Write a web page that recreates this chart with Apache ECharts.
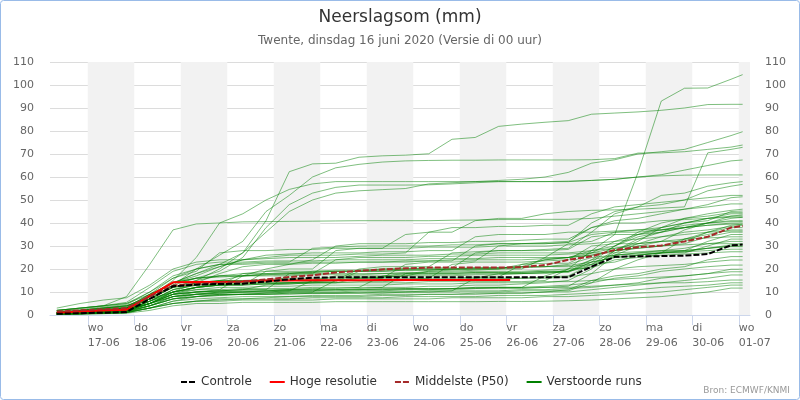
<!DOCTYPE html>
<html>
<head>
<meta charset="utf-8">
<script src="https://cdn.jsdelivr.net/npm/echarts@6/dist/echarts.min.js"></script>
<style>
  html, body { margin: 0; padding: 0; background: #fff; }
  #chart { width: 800px; height: 400px; }
</style>
</head>
<body>
<div id="chart"></div>
<script>
/* Neerslagsom (mm) — ECMWF pluim Twente, run di 16-06-2020 00 uur */

// tijdas: uren sinds 16-06 00:00 lokale tijd
const xMin = 4.5, xMax = 365.8;
const ensTimes = [8, 20, 32, 44, 56, 68, 80, 92, 104, 116, 128, 140, 152, 164, 176, 188,
  200, 212, 224, 236, 248, 260, 272, 284, 296, 308, 320, 332, 344, 356, 362];
const hiresTimes = [8, 20, 32, 44, 56, 68, 80, 92, 104, 116, 128, 140, 152, 164, 176, 188,
  200, 212, 224, 236, 242];

const tickHours = [24, 48, 72, 96, 120, 144, 168, 192, 216, 240, 264, 288, 312, 336, 360];
const dayNames = ['wo', 'do', 'vr', 'za', 'zo', 'ma', 'di', 'wo', 'do', 'vr', 'za', 'zo', 'ma', 'di', 'wo'];
const dayDates = ['17-06', '18-06', '19-06', '20-06', '21-06', '22-06', '23-06', '24-06',
  '25-06', '26-06', '27-06', '28-06', '29-06', '30-06', '01-07'];
const shadedDays = [24, 72, 120, 168, 216, 264, 312, 360];   // grijze dagen

const controle = [0.5, 0.8, 1.0, 1.3, 7, 12.5, 13.2, 13.5, 13.6, 14.5, 15.5, 16.2, 16.4, 16.4, 16.4, 16.4,
  16.4, 16.4, 16.4, 16.4, 16.4, 16.4, 16.4, 21, 25.3, 25.5, 25.6, 25.8, 26.5, 30.3, 30.6];
const hogeResolutie = [1.0, 1.5, 2.0, 2.3, 8.3, 14.2, 14.3, 14.4, 14.6, 15.0, 15.0, 15.1, 15.1, 15.1, 15.2,
  15.2, 15.2, 15.2, 15.2, 15.2, 15.2];
const middelste = [1.5, 2.0, 2.5, 3.0, 8, 12.8, 13.5, 14.0, 14.5, 15.5, 16.5, 17.3, 18.5, 19.2, 19.8, 20.3,
  20.6, 20.6, 20.6, 20.6, 20.8, 21.7, 24.0, 25.5, 28.3, 29.5, 30.2, 32, 34, 38, 38.7];

// 50 verstoorde runs
const runs = [
  [0.5,1,1.5,2,5,9,10,10.5,11,13,13.5,14,14,16,16.5,17,19,19.5,20,20,22,24,25,28,35,62,93,98.6,98.7,102.5,104.5],
  [1,2,3,4,8,12,15,20,27,41,62.3,65.7,66,68.6,69.2,69.5,70.1,76.4,77.2,82,83,83.8,84.5,87.3,87.8,88.3,89,90,91.5,91.6,91.6],
  [1,1.5,2,3,8,14,18,22,27,36,45,50,53,54,54.5,55,57,57.5,58,58.5,59,60,62,66,67.5,70,71,72,75,78,79.7],
  [0.5,1,2,3,9,16,20,26,32,45,52,60,64,65.5,66.5,67,67.2,67.3,67.3,67.4,67.4,67.4,67.4,67.5,68,70.4,70.5,71,72,73,73.9],
  [0.3,0.5,1,1.5,5,10,12,13,13,19,20,20,28,29,29,35,36,36,41,42,42,44,45,45.5,45.7,46,46.5,47,70.5,72,72.9],
  [1,1.5,2.5,3.5,9,13,16,19,25,38,48,53,55.5,56.5,56.5,56.5,56.6,57,57.5,58,58,58,58.2,58.5,59,60,61,63,65,67,67.4],
  [2,3,4,8,22,37,39.6,40,44,50,54.6,57,58,58,58,58,58,58,58,58,58,58,58,58.5,59,60,60.5,60.8,60.9,60.9,60.9],
  [0.5,1,1.5,2,4,7,8,9,9,9.5,10,10,15,16,16,22,23,23,23.5,30,31,31,31.5,40,45,47,52,53,56,57.5,58],
  [1,2,3,4,7,10,12,13,13,13.5,14,14,14.5,19,20,20,20.5,20.5,27,28,28,28.5,29,36,44,47,48,50,54,56,56.8],
  [0.8,1.2,2,2.5,6,11,13,15,17,20,22,24,30,31,31,31,31.5,31.5,32,32,32.5,33,33,38,41,42,44,46,48,51,51.4],
  [1,2,3,4,8,15,25,40,40.5,40.6,40.7,40.8,40.9,41,41,41,41,41.2,41.3,41.5,41.5,41.6,41.6,42,43,44,45,46,47,48.3,48.3],
  [0.5,1,1.5,2,5,9,12,14,14,14.5,15,15,15,20,21,21,21,27,27.5,28,28,28,28.5,34,35,35,36,40,41,45,45.2],
  [0.3,0.6,1,1.5,4,7,9,10,10,10.5,11,11,11,11.5,12,18,19,19,19.5,20,20,25,31,32,36,37,38,42,43,44.5,44.5],
  [2,3,4,5,10,17,20,22,22.5,23,23,29,29.5,30,30,30,30,30.5,30.5,31,31,31,31.5,35,36,36,37,39,40,40.6,40.6],
  [1,1.5,2,3,8,14,18,21,24,26,26.5,27,27,27,27.5,27.5,28,28,34,35,35,35,36,36,36.5,37,37,38,39,39.5,39.5],
  [0.5,1,1.5,2,6,11,13,13.5,14,14,14,14.5,15,15,15,15.5,16,22,23,23,23,23.5,24,30,31,31,32,32,36,38,38],
  [3,5,6.5,7.5,13,20,23,24,24,24.5,25,25,25,25.5,26,26,26,26.5,26.5,27,27,27,27,28,29,30,30,33,35,37,37],
  [0.3,0.5,0.8,1,4,8,10,10.5,11,11,18,19,19,19,19.5,20,20,20,20.5,20.5,21,24,25,26,28,29,30,31,34,36,36],
  [1,1.5,2,3,8,14,16,17,17,17.5,18,18,24,25,25,25,25.5,25.5,26,26,26,26,26.5,27,27,27.5,28,28,32,35,35],
  [0.8,1.2,2,2.5,5,9,10,11,17,18,18,18.5,19,19,19,19.5,19.5,20,20,20.5,21,21,21,22,23,26,27,27,30,33,33],
  [0.2,0.4,0.6,1,3,6,8,9,9,9.5,10,10,10,10.5,10.5,11,11,11,11.5,12,12,17,20,24,26,27,28,29,31,32,32],
  [0.5,1,1.5,2,6,11,14,15,15,15.5,16,16,16,16.5,16.5,17,17,17,17.5,17.5,18,18,19,23,25,26,27,27.5,29,30.5,30.5],
  [1,2,3,4,7,10,12,13,13.5,14,14,14.5,15,15,15,15,15.5,15.5,16,16,16,16.5,17,22,26,27,27.5,28,29,30,30],
  [0.5,0.8,1.2,1.5,5,10,12,13,18,19,19,19,19.5,19.5,20,20,20,20,20.5,20.5,21,21,21.5,23,25,26,27,28,29,29.7,29.7],
  [0.8,1.5,2,2.5,7,12,15,17,18,18,18.5,18.5,19,19,19,19.5,19.5,20,20,20,20.5,21,22,25,26,26.5,27,27.5,28,28.6,28.6],
  [1.5,2,3,3.5,9,14,16,17,17,17.5,17.5,18,18,18,18,18.5,18.5,18.5,19,19,19,19.5,20,20.5,24,25,26,26.5,27,27.5,27.5],
  [0.3,0.5,0.8,1,3,5,6,7,7,7.5,8,8,8,8,8.5,8.5,9,9,9,9.5,9.5,10,11,15,17,18,20,21,24,25.4,25.4],
  [0.5,1,1.5,2,6,10,12,13,13,13.5,14,14,14,14.5,14.5,15,15,15,15.5,15.5,16,16,16.5,18,20,21,21.5,22,23,23.9,23.9],
  [1,1.5,2,2.5,6,9,10,10.5,11,11,11,11.5,11.5,12,12,12,12.5,12.5,13,13,13.5,14,15,20,28,32,38,40,42,43,43],
  [0.5,0.8,1,1.5,4,8,9,9.5,10,10,10.5,10.5,11,11,11,11.5,11.5,11.5,12,12,12,12.5,13,14,16,17,19,20,21,21.7,21.7],
  [2,3,4,5,9,14,16,16.5,17,17,17,17.5,17.5,17.5,18,18,18,18,18.5,18.5,18.5,19,19,21,27,31,34,36,37,38.5,39],
  [0.3,0.6,0.9,1.2,4,7,8,8.5,9,9,9,9.5,9.5,9.5,10,10,10,10.5,10.5,10.5,11,11,11.5,12,13,14,16,17,18,19.9,19.9],
  [0.8,1.2,1.6,2,5,9,11,12,12,12.5,12.5,13,13,13,13,13.5,13.5,13.5,14,14,14,14.5,14.5,15,15.5,16,16.5,17,18,18.8,18.8],
  [0.5,0.8,1,1.2,3,6,7,7.5,8,8,8,8.5,8.5,8.5,9,9,9,9,9.5,9.5,9.5,10,10,11,12,13,14,15,16,17.4,17.4],
  [1,1.5,2,2.5,5,8,9,9.5,10,10,10.5,10.5,10.5,11,11,11,11,11.5,11.5,11.5,11.5,12,12,12.5,13,13.5,14,14,14.5,15.2,15.2],
  [0.3,0.5,0.7,1,3,5,6,6.5,7,7,7,7.5,7.5,7.5,7.5,8,8,8,8,8.5,8.5,8.5,9,9.5,10,11,12,12.5,13,14,14],
  [0.5,0.8,1,1.3,3,5,6,6,6.5,6.5,6.5,6.5,7,7,7,7,7,7.5,7.5,7.5,7.5,8,8,8.5,9,9.5,10,11,12,13,13],
  [0.2,0.4,0.6,0.8,2,4,5,5,5.5,5.5,5.5,5.5,5.8,5.8,5.8,5.8,5.8,5.8,5.8,5.9,5.9,6,6.2,6.5,7,7.5,8,9,10,11.7,11.7],
  [1,1.5,2,2.5,5,8,9,9,9,9,9.5,9.5,9.5,9.5,9.5,10,10,10,10,10,10.5,10.5,10.5,14,20,24,27,33,36,39,39.5],
  [0.5,1,1.5,2,5,9,10,10,10.5,10.5,11,11,11,11,11.5,11.5,11.5,11.5,12,12,12,12,12.5,18,26,30,32,37,40,41,41],
  [1,1.5,2,2.5,7,12,13,13,13.5,13.5,13.5,14,14,14,14,14,14.5,14.5,14.5,14.5,14.5,15,20,28,30,34,36,38,40,42,42.5],
  [0.5,1,1.5,2,6,10,11,11,11.5,11.5,11.5,12,12,12,17,18,18,18,18.5,18.5,18.5,19,19,22,28,33,36,38,40,43,43.5],
  [1,1.5,2.5,3,7,12,14,15,15,15,15.5,15.5,15.5,16,16,16,16,16,16.5,16.5,22,22.5,22.5,27,32,35,38,40,42,44,44],
  [0.8,1.2,1.8,2.2,5,8,9,10,10,10.5,10.5,15,17,17,17,17.5,17.5,17.5,18,18,18,18.5,18.5,23,30,35,37,38,39,40,40],
  [0.5,1,1.3,1.7,4,7,8,8.5,9,9,9.5,9.5,9.5,10,10,10,10.5,10.5,16,18,18,18.5,19,24,30,36,40,42,44,45.5,46],
  [2,3,4,5.5,12,19,22,23,23,23.5,23.5,23.5,24,24,24,24,24.5,24.5,24.5,25,25,25,25,26,28,29,30,30.5,31,31,31],
  [1,1.5,2,3,7,13,20,22,22,22.5,22.5,23,23,23,23,23.5,23.5,24,24,24,24,24.5,25,27,29,31,32,33,33.5,34,34],
  [0.5,1,1.5,2,5,10,14,18,21,22,22,22.5,22.5,23,23,23,23.5,23.5,30,31,31,31.5,32,38,40,40,41,41.5,42,42.5,42.5],
  [1,1.5,2.5,3,8,14,17,21,24,25,26,26,26,26.5,26.5,27,36,38,38,38.5,38.5,39,39,44,47,48,49,50,51,52,52],
  [2,2.5,3.5,4.5,10,16,19,27,28,28,28.5,28.5,29,29,29,29,29.5,29.5,29.5,30,30,30,30.5,31,32,33,34,35,36,36.5,36.5]
];

const zip = (ts, vs) => ts.map((t, i) => [t, vs[i]]);
const SHORT_DASH = [6, 2];
const labelOf = list => v => { const i = tickHours.indexOf(v); return i < 0 ? '' : list[i]; };

const bandData = shadedDays.map(d => [{ xAxis: d }, { xAxis: Math.min(d + 24, xMax) }]);

const series = [{
  // grijze dagbanden
  type: 'line', data: [], silent: true, z: 0,
  markArea: { silent: true, itemStyle: { color: '#f2f2f2' }, data: bandData }
}];

runs.forEach(r => series.push({
  name: 'Verstoorde runs', type: 'line', data: zip(ensTimes, r),
  symbol: 'none', silent: true, z: 2,
  lineStyle: { color: 'rgba(0,128,0,0.5)', width: 1 },
  itemStyle: { color: '#008000' }
}));

series.push({
  name: 'Hoge resolutie', type: 'line', data: zip(hiresTimes, hogeResolutie),
  symbol: 'none', silent: true, z: 3,
  lineStyle: { color: '#ff0000', width: 2 }, itemStyle: { color: '#ff0000' }
});
series.push({
  name: 'Middelste (P50)', type: 'line', data: zip(ensTimes, middelste),
  symbol: 'none', silent: true, z: 4,
  lineStyle: { color: '#a52a2a', width: 2, type: SHORT_DASH }, itemStyle: { color: '#a52a2a' }
});
series.push({
  name: 'Controle', type: 'line', data: zip(ensTimes, controle),
  symbol: 'none', silent: true, z: 5,
  lineStyle: { color: '#000000', width: 2, type: SHORT_DASH }, itemStyle: { color: '#000000' }
});

const yAxisBase = {
  type: 'value', min: 0, max: 110, interval: 10,
  axisLine: { show: false }, axisTick: { show: false }
};
// labels beginnen bij de streep (links uitgelijnd)
const xLabelStyle = { color: '#666666', fontSize: 11, align: 'left', margin: 8 };

const chart = echarts.init(document.getElementById('chart'), null, { renderer: 'canvas' });
chart.setOption({
  animation: false,
  textStyle: { fontFamily: 'DejaVu Sans' },
  title: [
    { text: 'Neerslagsom (mm)', left: 'center', top: 9, padding: 0,
      textStyle: { fontSize: 17, fontWeight: 'normal', color: '#333333' } },
    { text: 'Twente, dinsdag 16 juni 2020 (Versie di 00 uur)', left: 'center', top: 35, padding: 0,
      textStyle: { fontSize: 12, fontWeight: 'normal', color: '#666666' } }
  ],
  grid: { left: 50, right: 50, top: 62, bottom: 85 },
  xAxis: [{
    // dagnaam
    type: 'value', min: xMin, max: xMax, position: 'bottom',
    splitLine: { show: false },
    axisLine: { lineStyle: { color: '#ccd6eb' } },
    axisTick: { length: 10, lineStyle: { color: '#ccd6eb' }, customValues: tickHours },
    axisLabel: Object.assign({ customValues: tickHours, formatter: labelOf(dayNames) }, xLabelStyle)
  }, {
    // datum
    type: 'value', min: xMin, max: xMax, position: 'bottom', offset: 15,
    splitLine: { show: false }, axisLine: { show: false },
    axisTick: { show: false, customValues: tickHours },
    axisLabel: Object.assign({ customValues: tickHours, formatter: labelOf(dayDates) }, xLabelStyle)
  }],
  yAxis: [
    Object.assign({}, yAxisBase, {
      position: 'left',
      splitLine: { lineStyle: { color: '#dcdcdc' } },
      axisLabel: { color: '#666666', fontSize: 11, margin: 16 }
    }),
    Object.assign({}, yAxisBase, {
      position: 'right',
      splitLine: { show: false },
      axisLabel: { color: '#666666', fontSize: 11, margin: 15 }
    })
  ],
  legend: {
    left: 175, top: 371, itemWidth: 15, itemHeight: 10, itemGap: 17,
    itemStyle: { opacity: 0 },
    textStyle: { fontSize: 12, color: '#333333' },
    data: [
      { name: 'Controle' },
      { name: 'Hoge resolutie' },
      { name: 'Middelste (P50)' },
      { name: 'Verstoorde runs', lineStyle: { width: 2, color: '#008000', opacity: 1 } }
    ]
  },
  graphic: [
    { type: 'rect', shape: { x: 0.5, y: 0.5, width: 799, height: 399, r: 3 }, silent: true,
      style: { fill: 'none', stroke: '#99bbe8', lineWidth: 1 } },
    { type: 'text', right: 10, top: 386, silent: true,
      style: { text: 'Bron: ECMWF/KNMI', fill: '#999999', fontSize: 9, fontFamily: 'DejaVu Sans' } }
  ],
  series: series
});
</script>
</body>
</html>
